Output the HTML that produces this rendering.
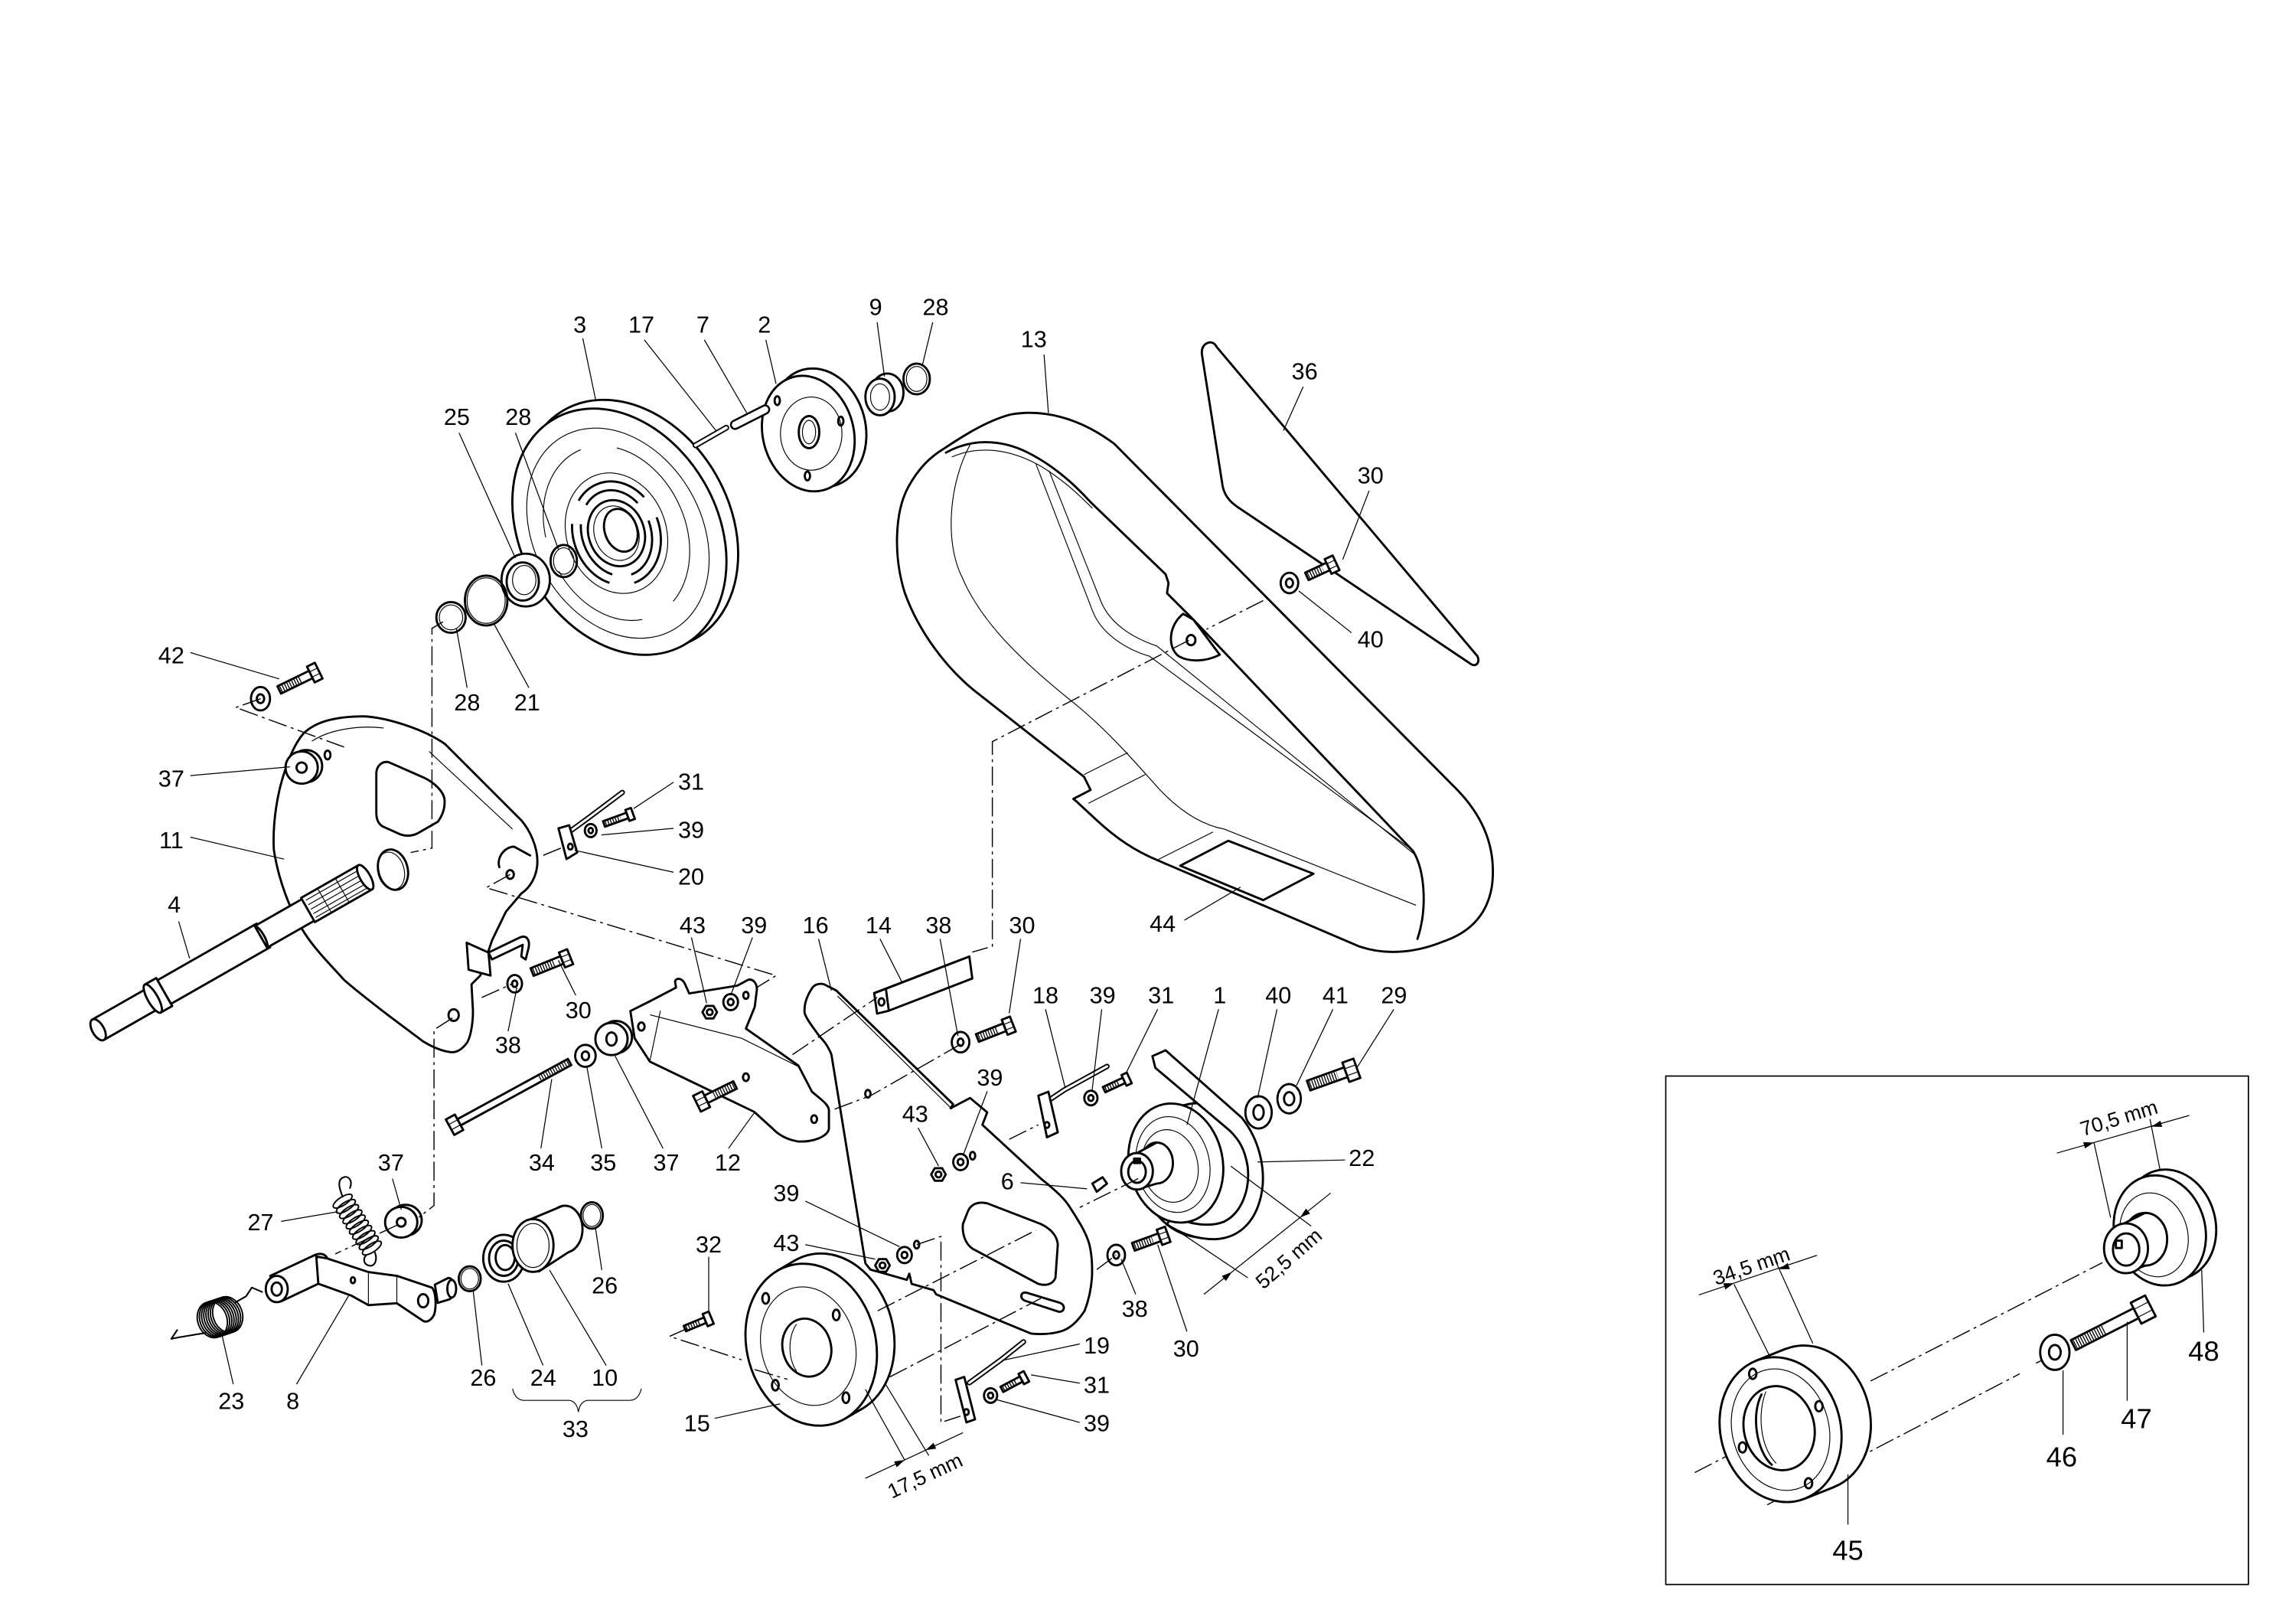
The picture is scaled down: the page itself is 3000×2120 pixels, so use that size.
<!DOCTYPE html>
<html><head><meta charset="utf-8"><style>
html,body{margin:0;padding:0;background:#fff;}
svg{display:block}
.k{stroke:#000;stroke-width:1.5;fill:none;stroke-linejoin:round;stroke-linecap:round}
.kw{stroke:#000;stroke-width:1.5;fill:#fff;stroke-linejoin:round;stroke-linecap:round}
.t{stroke:#000;stroke-width:0.6;fill:none}
.l{stroke:#000;stroke-width:0.65;fill:none}
.d{stroke:#000;stroke-width:0.75;fill:none;stroke-dasharray:13 3 2 3}
.th{stroke:#000;fill:none;stroke-dasharray:0.7 1.1}
text{font-family:"Liberation Sans",Arial,sans-serif;font-size:16px;fill:#000;text-anchor:middle}
.dm{font-size:14px}
.big{font-size:19px}
</style></head><body>
<svg width="3000" height="2120" viewBox="0 0 1568 1108" preserveAspectRatio="none" xmlns="http://www.w3.org/2000/svg">
<rect x="0" y="0" width="1568" height="1108" fill="#fff"/>

<!-- Belt cover 13 -->
<path class="kw" d="M644.8,306.2 C660,296 675,287 690,283 C712,279 737,285 761,303 L994,538 C1012,556 1022,578 1019,604 C1016,625 1003,637 985,643 C965,651 945,652 928,646 L791,587.5 C775,581 762,572 749,560 L735,547 L733,545.4 L744.8,539.3 L740.3,530.3 L665.7,471.7 C645,455 627,430 618,405 C610,380 611,350 620,333 C627,320 635,312 644.8,306.2 Z"/>
<path class="k" d="M646,309 C662,300 682,299 702,309 C720,318 735,332 745,343 L796,392 L798,398 L797,405 L815,423 L965,581 C973,594 975,620 968,641"/>
<path class="t" d="M650,312 C668,304 690,306 712,319 C728,329 738,339 746,347"/>
<path class="t" d="M662.7,303.2 C648,330 645,370 657,394 C668,420 690,445 731,478 C755,497 775,520 791,538 C805,553 820,563 836,566 L967,618"/>
<path class="t" d="M707.5,316.8 L746.3,417.5 C752,432 768,443 785,448 L964,580"/>
<path class="t" d="M716.4,321.3 L752,411 C758,425 772,435 790,441 L967,584"/>
<path class="t" d="M740.3,528.8 L770.2,513.8 M743.3,548.4 L782.1,528.8 M789.6,587.5 L828.4,568"/>
<path class="kw" d="M808,419 C798,427 797,442 805,448 C812,452 823,452 833,447 L815,423 Z"/>
<ellipse class="k" cx="813.4" cy="437" rx="3" ry="3.5"/>
<polygon class="k" points="806,591 838.8,574 897,596.5 862.7,614.5"/>

<!-- Shield 36 -->
<path class="kw" d="M825,234 C828,233 830,235 831,237 L1009,448 C1011,452 1008,456 1004,453 L845,346 C839,342 836,337 835,332 L821,243 C820,238 822,235 825,234 Z"/>

<!-- Pulley 3 -->
<ellipse class="kw" cx="430" cy="358" rx="68" ry="90" transform="rotate(-30 430 358)"/>
<ellipse class="kw" cx="423" cy="363" rx="67" ry="89" transform="rotate(-30 423 363)"/>
<ellipse class="t" cx="422" cy="364" rx="57" ry="76" transform="rotate(-30 422 364)"/>
<ellipse class="t" cx="421" cy="364" rx="47" ry="62" transform="rotate(-25 421 364)" stroke-dasharray="70 25"/>
<ellipse class="t" cx="421" cy="364" rx="34" ry="42" transform="rotate(-20 421 364)"/>
<ellipse cx="421" cy="364" rx="26.5" ry="33" transform="rotate(-20 421 364)" fill="none" stroke="#000" stroke-width="7.5" stroke-dasharray="47 15.2"/>
<ellipse cx="421" cy="364" rx="26.5" ry="33" transform="rotate(-20 421 364)" fill="none" stroke="#fff" stroke-width="4.5" stroke-dasharray="47 15.2"/>
<ellipse class="k" cx="421" cy="364" rx="19" ry="23" transform="rotate(-20 421 364)"/>
<ellipse class="t" cx="421" cy="364" rx="15" ry="19" transform="rotate(-20 421 364)"/>
<ellipse class="k" cx="424" cy="362" rx="11" ry="15" transform="rotate(-20 424 362)"/>

<!-- Pulley 2 -->
<ellipse class="kw" cx="559" cy="292" rx="32" ry="41" transform="rotate(-15 559 292)"/>
<ellipse class="kw" cx="552" cy="296" rx="31" ry="40" transform="rotate(-15 552 296)"/>
<ellipse class="t" cx="554" cy="296" rx="21" ry="25"/>
<ellipse class="k" cx="552.5" cy="295" rx="7" ry="11"/>
<ellipse class="t" cx="552.5" cy="295" rx="4.5" ry="8"/>
<ellipse class="k" cx="530.8" cy="273.5" rx="1.8" ry="3"/>
<ellipse class="k" cx="574.2" cy="287.5" rx="1.8" ry="3"/>
<ellipse class="k" cx="551.4" cy="324.9" rx="1.8" ry="3"/>

<!-- pins 17, 7 -->
<line x1="475" y1="304" x2="496" y2="292" stroke="#000" stroke-width="4" stroke-linecap="round"/>
<line x1="475" y1="304" x2="496" y2="292" stroke="#fff" stroke-width="2" stroke-linecap="round"/>
<line x1="502" y1="290" x2="522.5" y2="279.6" stroke="#000" stroke-width="7" stroke-linecap="round"/>
<line x1="502" y1="290" x2="522.5" y2="279.6" stroke="#fff" stroke-width="4.4" stroke-linecap="round"/>
<!-- bushing 9 -->
<ellipse class="kw" cx="606" cy="268" rx="11" ry="13"/>
<ellipse class="kw" cx="601" cy="271" rx="10" ry="12.5"/>
<ellipse class="t" cx="601" cy="271" rx="6.5" ry="9"/>
<!-- ring 28 top -->
<ellipse class="k" cx="626" cy="258.7" rx="9" ry="10.5"/>
<ellipse class="t" cx="626" cy="258.7" rx="7" ry="8.5"/>
<!-- seal 25 -->
<ellipse class="kw" cx="359" cy="396" rx="16.5" ry="18"/>
<ellipse class="k" cx="357" cy="397" rx="11" ry="13"/>
<ellipse class="t" cx="358" cy="396" rx="8" ry="10"/>
<!-- circlip 28 -->
<ellipse class="k" cx="385" cy="383" rx="9" ry="11"/>
<ellipse class="t" cx="385" cy="383" rx="7" ry="9"/>
<!-- ring 21 -->
<ellipse class="k" cx="332" cy="410" rx="14.5" ry="17"/>
<ellipse class="t" cx="332" cy="410" rx="13" ry="15.5"/>
<!-- circlip 28 lower -->
<ellipse class="k" cx="308" cy="421.5" rx="10" ry="10.5"/>
<ellipse class="t" cx="308" cy="421.5" rx="8" ry="8.5"/>

<!-- Plate 11 -->
<path class="kw" d="M207,501 C215,493 228,489 249,489 C265,490 290,498 304,508 L356,560 C362,567 367,578 367,588 C367,598 362,606 356,610 L345.5,622.4 L336,642 L328,666 L322,672 L323,690 C323,700 321,710 318,713 C314,718 310,719 306,718 C300,717 294,714 289,711 L265,693 C252,683 243,676 235,669 C226,659 215,648 208,637 C198,622 190,600 187,580 C186,560 190,540 194,528 C198,515 202,507 207,501 Z"/>
<path class="t" d="M213,506 C225,498 245,495 262,497 M293,513 L350,566"/>
<path class="k" d="M265.9,520.5 L289.7,531 C296,534 303,540 303.6,546 C304,552 302,557 299,561 L285,569 C281,571 276,571 272,569 L261,564 C258,562 257,559 257,555 L257,528 C257,523 261,519 265.9,520.5 Z"/>
<ellipse class="k" cx="268.4" cy="593.7" rx="10" ry="14" transform="rotate(-15 268.4 593.7)"/>
<ellipse class="t" cx="267" cy="594.5" rx="9" ry="13" transform="rotate(-15 267 594.5)"/>
<ellipse class="k" cx="223.7" cy="515.4" rx="2" ry="3"/>
<ellipse class="k" cx="309.8" cy="693" rx="3.5" ry="4"/>
<path class="k" d="M341,592 C339,585 345,578 351,578 L362,584"/>
<ellipse class="k" cx="348.4" cy="597" rx="2.5" ry="3"/>
<polygon class="kw" points="318.7,643.6 333.6,650.3 335,666 320,662"/>
<path class="kw" d="M333.6,650.3 L355,640 C360,638 362,642 361,647 L359,655 L356,653 L357,645 L336,655 Z"/>

<!-- Shaft 4 -->
<g transform="translate(67,703) rotate(-29.7)">
<rect class="kw" x="0" y="-8" width="46" height="16"/>
<ellipse class="kw" cx="0" cy="0" rx="4" ry="8"/>
<rect class="kw" x="43" y="-11" width="9" height="22"/>
<ellipse class="kw" cx="43" cy="0" rx="3.5" ry="11"/>
<rect class="kw" x="52" y="-9.3" width="78" height="18.6"/>
<rect class="kw" x="128" y="-8.5" width="40" height="17"/>
<path class="k" d="M128,-9.3 C131,-5 131,5 128,9.3"/>
<rect class="kw" x="165" y="-9.5" width="45" height="19"/>
<path class="t" d="M167,-6.5 L210,-6.5 M167,-3 L210,-3 M167,0.5 L210,0.5 M167,4 L210,4 M167,7 L210,7 M178,-9.5 L178,9.5 M192,-9.5 L192,9.5"/>
<ellipse class="kw" cx="210" cy="0" rx="3.5" ry="9.5"/>
</g>

<!-- Plate 12 -->
<path class="kw" d="M430.5,690.2 L443.9,683.5 L461.7,674.2 L461,670 C462,667 466,668 467.7,671.6 L470.7,678.2 L503.5,672.9 L510.9,668.9 C514,668 517,671 516.9,675.6 L515.4,687.5 L509.4,702.2 L545.2,727.4 L554.5,745.3 C560,750 566,754 566.1,758 L566.1,770.7 C565,776 555,780 544.5,779.2 C538,778 532,775 527.9,770.7 L515,759 L443.9,724.8 L433.4,708.8 Z"/>
<path class="t" d="M443.9,692.8 L506.4,708.8 L545,728 M451,690 L443.9,724"/>
<ellipse class="k" cx="438" cy="700.8" rx="2.2" ry="2.8"/>
<ellipse class="k" cx="509.4" cy="679.5" rx="1.8" ry="2.4"/>
<ellipse class="k" cx="509.4" cy="735.4" rx="2" ry="2.6"/>
<ellipse class="k" cx="556" cy="764" rx="2" ry="2.6"/>

<!-- Plate 16 -->
<path class="kw" d="M554.5,674.8 C556,672 560,671 562.8,672 L571.1,676.2 L650.9,753.8 L649.2,756.6 L662.5,749.6 L674.2,759.4 L670.9,767.9 L710.8,804.6 C720,812 727,818 730.7,824.3 C737,834 742,842 744,849.7 C746,858 746,866 745.7,872.3 C745,882 743,889 740.7,894.9 C736,902 731,907 724.1,909 C717,911 710,911 704.1,910.4 L639.3,883.6 L637.6,880.8 L622.6,876.5 L621,869.5 L619.3,873.7 L594.4,866.7 L591,862.4 L567.8,719.9 C565,713 562,710 559.4,707.2 C555,701 551,696 549.5,691.7 C549,686 551,680 554.5,674.8 Z"/>
<path class="t" d="M572,680 L650,757"/>
<path class="k" d="M660.9,827.2 C663,822 668,820 674.2,821.5 L710.8,835.6 C718,839 722,844 722.4,849.7 L720.8,872.3 C719,877 714,878 709.1,876.5 L664.2,852.5 C659,849 657,842 657.6,835.6 Z"/>
<path class="k" d="M701,882.5 L724,889.5 C728,891 727,896 723,895.5 L700,888 C696,886.5 697,881.5 701,882.5 Z"/>
<ellipse class="k" cx="592.7" cy="746.7" rx="1.8" ry="2.6"/>
<ellipse class="k" cx="664.2" cy="789" rx="1.8" ry="2.6"/>
<ellipse class="k" cx="626" cy="849.7" rx="1.8" ry="2.6"/>

<!-- part 14 -->
<path class="kw" d="M597,678 L654,656 L662,653 L664,668 L607,690 L599,692 Z"/>
<path class="k" d="M597,678 L605,675 L662,653 M605,675 L607,690"/>
<ellipse class="k" cx="602" cy="684" rx="2" ry="2.5"/>

<!-- bracket 20 -->
<path d="M390,567 L401,559 L425,541" stroke="#000" stroke-width="3.6" fill="none" stroke-linecap="round" stroke-linejoin="round"/>
<path d="M390,567 L401,559 L425,541" stroke="#fff" stroke-width="1.6" fill="none" stroke-linecap="round" stroke-linejoin="round"/>
<polygon class="kw" points="381.4,565.5 388.7,563.4 394.2,582 386.9,586.5"/>
<ellipse class="k" cx="389.5" cy="578" rx="1.6" ry="2"/>
<!-- bracket 18 -->
<path d="M718,750 L727,744 L756,728" stroke="#000" stroke-width="3.6" fill="none" stroke-linecap="round" stroke-linejoin="round"/>
<path d="M718,750 L727,744 L756,728" stroke="#fff" stroke-width="1.6" fill="none" stroke-linecap="round" stroke-linejoin="round"/>
<polygon class="kw" points="709.1,748 716,745.3 722.4,773 715,776.4"/>
<ellipse class="k" cx="715" cy="768" rx="1.6" ry="2"/>
<!-- bracket 19 -->
<path d="M662,944 L684,928 L699,916" stroke="#000" stroke-width="3.6" fill="none" stroke-linecap="round" stroke-linejoin="round"/>
<path d="M662,944 L684,928 L699,916" stroke="#fff" stroke-width="1.6" fill="none" stroke-linecap="round" stroke-linejoin="round"/>
<polygon class="kw" points="652.6,942 658.5,940 665.9,969 660,971"/>
<ellipse class="k" cx="660" cy="964" rx="1.6" ry="2"/>

<!-- Flange 15 -->
<ellipse class="kw" cx="566" cy="911" rx="44" ry="56" transform="rotate(-15 566 911)"/>
<polygon points="531,867.4 543,860.4 589,961.6 577,968.6" fill="#fff"/>
<path class="k" d="M531,867.4 L543,860.4 M577,968.6 L589,961.6"/>
<ellipse class="kw" cx="554" cy="918" rx="44" ry="56" transform="rotate(-15 554 918)"/>
<ellipse class="t" cx="552" cy="919" rx="32" ry="41" transform="rotate(-15 552 919)"/>
<ellipse class="k" cx="551" cy="920" rx="16.5" ry="20" transform="rotate(-15 551 920)"/>
<path class="t" d="M544,904 C538,912 538,928 544,936"/>
<ellipse class="k" cx="522.9" cy="886.4" rx="2.3" ry="3.6"/>
<ellipse class="k" cx="571.1" cy="897.7" rx="2.3" ry="3.6"/>
<ellipse class="k" cx="529.5" cy="945.7" rx="2.3" ry="3.6"/>
<ellipse class="k" cx="577.7" cy="954.2" rx="2.3" ry="3.6"/>

<!-- Pulley 1 / 22 -->
<ellipse class="kw" cx="820" cy="799" rx="41" ry="46" transform="rotate(-10 820 799)"/>
<path class="kw" d="M787,721 L796,717 L848,763 C860,778 864,797 862,812 C859,832 848,845 830,846 C815,846 805,841 797,836 L800,830 C812,836 826,838 836,834 C848,828 854,812 852,796 C850,784 846,778 840,772 L789,729 Z"/>
<ellipse class="kw" cx="803" cy="794" rx="32" ry="41" transform="rotate(-12 803 794)"/>
<ellipse class="t" cx="801" cy="795" rx="25" ry="33" transform="rotate(-12 801 795)"/>
<ellipse class="t" cx="799" cy="796" rx="19" ry="25" transform="rotate(-12 799 796)"/>
<ellipse class="kw" cx="790" cy="794" rx="11" ry="14"/>
<polygon points="776.5,787 790,780 790,808 776.5,812" fill="#fff"/>
<path class="k" d="M776.5,787.2 L790,780 M776.5,812 L790,808"/>
<ellipse class="kw" cx="776.5" cy="799.6" rx="10.8" ry="12.5"/>
<ellipse class="k" cx="776.5" cy="800" rx="6" ry="7.5"/>
<rect class="k" x="774.5" y="791" width="4" height="3"/>
<!-- key 6 -->
<polygon class="kw" points="746,808 753,803.7 756,808 749,813.6"/>

<!-- Lever 8, springs -->
<path class="kw" d="M184.6,871 L215.9,856.4 C221,855 224,858 223.3,860 L223,872 L217.4,876.4 L192,888.4 Z"/>
<ellipse class="kw" cx="189" cy="880" rx="7.5" ry="9"/>
<ellipse class="k" cx="189" cy="880" rx="3.5" ry="4.5"/>
<path class="kw" d="M216,857.8 L223.3,859.1 L251.6,868.4 L271,871 L294.9,879 C298,882 298,893 296.4,897.7 C294,902 291,903 288.9,901.7 L271,889.7 L251.6,891 L239.7,884.4 L217.4,876.4 Z"/>
<path class="t" d="M251.6,868.4 L251.6,891 M271,871 L271,889.7"/>
<ellipse class="k" cx="289" cy="888" rx="3.5" ry="4.5"/>
<ellipse class="k" cx="241" cy="874" rx="1.5" ry="2"/>
<path class="kw" d="M297,877 L306,872.5 C311,872 312,884 307,887 L299,889.5 Z"/>
<ellipse class="kw" cx="308.5" cy="879.8" rx="3" ry="6"/>
<!-- spring 27 -->
<g class="k" style="stroke-width:1">
<ellipse cx="234" cy="820" rx="7.5" ry="2.8" transform="rotate(-33 234 820)"/>
<ellipse cx="236.2" cy="823.6" rx="7.5" ry="2.8" transform="rotate(-33 236.2 823.6)"/>
<ellipse cx="238.4" cy="827.1" rx="7.5" ry="2.8" transform="rotate(-33 238.4 827.1)"/>
<ellipse cx="240.7" cy="830.7" rx="7.5" ry="2.8" transform="rotate(-33 240.7 830.7)"/>
<ellipse cx="242.9" cy="834.2" rx="7.5" ry="2.8" transform="rotate(-33 242.9 834.2)"/>
<ellipse cx="245.1" cy="837.8" rx="7.5" ry="2.8" transform="rotate(-33 245.1 837.8)"/>
<ellipse cx="247.3" cy="841.3" rx="7.5" ry="2.8" transform="rotate(-33 247.3 841.3)"/>
<ellipse cx="249.6" cy="844.9" rx="7.5" ry="2.8" transform="rotate(-33 249.6 844.9)"/>
<ellipse cx="251.8" cy="848.4" rx="7.5" ry="2.8" transform="rotate(-33 251.8 848.4)"/>
<ellipse cx="254" cy="852" rx="7.5" ry="2.8" transform="rotate(-33 254 852)"/>
</g>
<path class="k" style="stroke-width:1.1" d="M234,817 C232,812 230,806 234,804 C238,802 241,806 239,811 M256,855 C258,860 256,865 252,864 C248,863 248,859 250,857"/>
<!-- spring 23 -->
<g class="k" style="stroke-width:1">
<ellipse cx="145" cy="901" rx="10" ry="12.5" transform="rotate(-20 145 901)"/>
<ellipse cx="146.5" cy="900.5" rx="10" ry="12.5" transform="rotate(-20 146.5 900.5)"/>
<ellipse cx="148" cy="900" rx="10" ry="12.5" transform="rotate(-20 148 900)"/>
<ellipse cx="149.5" cy="899.5" rx="10" ry="12.5" transform="rotate(-20 149.5 899.5)"/>
<ellipse cx="151" cy="899" rx="10" ry="12.5" transform="rotate(-20 151 899)"/>
<ellipse cx="152.5" cy="898.5" rx="10" ry="12.5" transform="rotate(-20 152.5 898.5)"/>
<ellipse cx="154" cy="898" rx="10" ry="12.5" transform="rotate(-20 154 898)"/>
<ellipse cx="155.5" cy="897.5" rx="10" ry="12.5" transform="rotate(-20 155.5 897.5)"/>
</g>
<path class="k" style="stroke-width:1.1" d="M140,910 L122,913 L117,914 L121,908 M161,889 L168,885 L172,879 L179,882"/>
<!-- 26, 24, 10, 26 -->
<ellipse class="k" cx="320.8" cy="873" rx="7.5" ry="8.5"/>
<ellipse class="t" cx="320.8" cy="873" rx="6" ry="7"/>
<ellipse class="kw" cx="344" cy="859" rx="14" ry="16"/>
<ellipse class="k" cx="344" cy="859" rx="10" ry="12"/>
<ellipse class="k" cx="345" cy="858.5" rx="6.5" ry="8.5"/>
<ellipse class="kw" cx="385.8" cy="839.1" rx="12" ry="16"/>
<polygon points="362,832.5 384,823.3 388,855 368,868" fill="#fff"/>
<path class="k" d="M362,832.5 L384,823.3 M368,868 L388,855"/>
<ellipse class="kw" cx="364" cy="850.3" rx="14" ry="18"/>
<ellipse class="t" cx="364" cy="850.3" rx="11" ry="15"/>
<ellipse class="k" cx="404.2" cy="829.8" rx="7.5" ry="9"/>
<ellipse class="t" cx="404.2" cy="829.8" rx="6" ry="7.5"/>
<path class="t" d="M350,948 Q352,956 358,956 L389,956 Q394,957 395,964 Q396,957 401,956 L430,956 Q436,956 438,948"/>

<!-- Washers & nuts -->
<ellipse class="kw" cx="177.9" cy="477" rx="6.5" ry="8"/><ellipse class="k" cx="177.9" cy="477" rx="2.5" ry="3"/>
<ellipse class="kw" cx="209" cy="523" rx="11" ry="11"/><ellipse class="kw" cx="206" cy="524" rx="11" ry="11"/><ellipse class="k" cx="206" cy="524" rx="3.5" ry="3.5"/>
<ellipse class="kw" cx="403.4" cy="567" rx="4" ry="4.5"/><ellipse class="k" cx="403.4" cy="567" rx="1.5" ry="1.8"/>
<ellipse class="kw" cx="351.5" cy="671.6" rx="5" ry="6"/><ellipse class="k" cx="351.5" cy="671.6" rx="1.8" ry="2.2"/>
<ellipse class="kw" cx="399.8" cy="720.8" rx="7" ry="7.5"/><ellipse class="k" cx="399.8" cy="720.8" rx="2.5" ry="3"/>
<ellipse class="kw" cx="420.6" cy="708" rx="11" ry="11"/><ellipse class="kw" cx="417.6" cy="709.3" rx="11" ry="11"/><ellipse class="k" cx="417.6" cy="709.3" rx="3.5" ry="4.5"/>
<ellipse class="kw" cx="499" cy="684.1" rx="5" ry="5.5"/><ellipse class="k" cx="499" cy="684.1" rx="2" ry="2.2"/>
<ellipse class="kw" cx="656" cy="711.5" rx="6" ry="7"/><ellipse class="k" cx="656" cy="711.5" rx="2" ry="2.5"/>
<ellipse class="kw" cx="656" cy="793.3" rx="5" ry="5.5"/><ellipse class="k" cx="656" cy="793.3" rx="2" ry="2.2"/>
<ellipse class="kw" cx="617.7" cy="856.8" rx="5" ry="5.5"/><ellipse class="k" cx="617.7" cy="856.8" rx="2" ry="2.2"/>
<ellipse class="kw" cx="745" cy="749.6" rx="4.5" ry="5"/><ellipse class="k" cx="745" cy="749.6" rx="1.8" ry="2"/>
<ellipse class="kw" cx="859.5" cy="759.4" rx="9" ry="11"/><ellipse class="k" cx="859.5" cy="759.4" rx="3.5" ry="5"/>
<ellipse class="kw" cx="880.4" cy="750.1" rx="8" ry="10" stroke-dasharray="3 1"/><ellipse class="k" cx="880.4" cy="750.1" rx="3.5" ry="4.5"/>
<ellipse class="kw" cx="762.3" cy="856.8" rx="6" ry="7"/><ellipse class="k" cx="762.3" cy="856.8" rx="2" ry="2.5"/>
<ellipse class="kw" cx="676.5" cy="952.7" rx="4.5" ry="5"/><ellipse class="k" cx="676.5" cy="952.7" rx="1.8" ry="2"/>
<ellipse class="kw" cx="277" cy="833" rx="11" ry="10.5"/><ellipse class="kw" cx="274" cy="834.4" rx="11" ry="10.5"/><ellipse class="k" cx="274" cy="834.4" rx="3" ry="3"/>
<ellipse class="kw" cx="880.6" cy="398" rx="6" ry="7"/><ellipse class="k" cx="880.6" cy="398" rx="2.4" ry="3"/>
<polygon class="kw" points="479.7,691 482.2,686.7 487.2,686.7 489.7,691 487.2,695.3 482.2,695.3"/><ellipse class="k" cx="484.7" cy="691" rx="2" ry="2"/>
<polygon class="kw" points="635.9,801.8 638.4,797.5 643.4,797.5 645.9,801.8 643.4,806.1 638.4,806.1"/><ellipse class="k" cx="640.9" cy="801.8" rx="2" ry="2"/>
<polygon class="kw" points="597.7,863.9 600.2,859.6 605.2,859.6 607.7,863.9 605.2,868.2 600.2,868.2"/><ellipse class="k" cx="602.7" cy="863.9" rx="2" ry="2"/>

<!-- Bolts -->
<g transform="translate(190.7,471) rotate(-26)"><rect class="kw" x="0" y="-2.8" width="24" height="5.6"/><line class="th" x1="1" y1="0" x2="17" y2="0" stroke-width="4.4"/><rect class="kw" x="24" y="-6" width="6" height="12"/><line class="t" x1="24" y1="-2" x2="30" y2="-2"/><line class="t" x1="24" y1="2" x2="30" y2="2"/></g>
<g transform="translate(412.5,562.5) rotate(-20)"><rect class="kw" x="0" y="-2" width="17" height="4"/><line class="th" x1="1" y1="0" x2="12" y2="0" stroke-width="3"/><rect class="kw" x="17" y="-4" width="4" height="8"/></g>
<g transform="translate(363.4,663.6) rotate(-22)"><rect class="kw" x="0" y="-2.8" width="22" height="5.6"/><line class="th" x1="1" y1="0" x2="16" y2="0" stroke-width="4.4"/><rect class="kw" x="22" y="-5.5" width="6" height="11"/><line class="t" x1="22" y1="-2" x2="28" y2="-2"/><line class="t" x1="22" y1="2" x2="28" y2="2"/></g>
<g transform="translate(389,725) rotate(151.4)"><rect class="kw" x="0" y="-2.4" width="86" height="4.8"/><line class="th" x1="1" y1="0" x2="24" y2="0" stroke-width="3.6"/><rect class="kw" x="86" y="-6" width="7" height="12"/><line class="t" x1="86" y1="-2" x2="93" y2="-2"/><line class="t" x1="86" y1="2" x2="93" y2="2"/></g>
<g transform="translate(502,740.7) rotate(153.8)"><rect class="kw" x="0" y="-2.8" width="22" height="5.6"/><line class="th" x1="1" y1="0" x2="16" y2="0" stroke-width="4.4"/><rect class="kw" x="22" y="-6" width="7" height="12"/><line class="t" x1="22" y1="-2" x2="29" y2="-2"/><line class="t" x1="22" y1="2" x2="29" y2="2"/></g>
<g transform="translate(667.5,708.6) rotate(-21.4)"><rect class="kw" x="0" y="-2.8" width="20" height="5.6"/><line class="th" x1="1" y1="0" x2="15" y2="0" stroke-width="4.4"/><rect class="kw" x="20" y="-5.5" width="6" height="11"/><line class="t" x1="20" y1="-2" x2="26" y2="-2"/><line class="t" x1="20" y1="2" x2="26" y2="2"/></g>
<g transform="translate(754,743.9) rotate(-25)"><rect class="kw" x="0" y="-2" width="15" height="4"/><line class="th" x1="1" y1="0" x2="11" y2="0" stroke-width="3"/><rect class="kw" x="15" y="-4" width="4" height="8"/></g>
<g transform="translate(893.7,741.1) rotate(-19.7)"><rect class="kw" x="0" y="-3.5" width="27" height="7"/><line class="th" x1="1" y1="0" x2="21" y2="0" stroke-width="5.6"/><rect class="kw" x="27" y="-7" width="8" height="14"/><line class="t" x1="27" y1="-2.5" x2="35" y2="-2.5"/><line class="t" x1="27" y1="2.5" x2="35" y2="2.5"/></g>
<g transform="translate(774,851.2) rotate(-20)"><rect class="kw" x="0" y="-2.8" width="19" height="5.6"/><line class="th" x1="1" y1="0" x2="14" y2="0" stroke-width="4.4"/><rect class="kw" x="19" y="-5.5" width="6" height="11"/><line class="t" x1="19" y1="-2" x2="25" y2="-2"/><line class="t" x1="19" y1="2" x2="25" y2="2"/></g>
<g transform="translate(684.2,948.5) rotate(-28)"><rect class="kw" x="0" y="-2" width="15" height="4"/><line class="th" x1="1" y1="0" x2="11" y2="0" stroke-width="3"/><rect class="kw" x="15" y="-4" width="4" height="8"/></g>
<g transform="translate(467.7,907) rotate(-22.5)"><rect class="kw" x="0" y="-2" width="15" height="4"/><line class="th" x1="1" y1="0" x2="11" y2="0" stroke-width="3"/><rect class="kw" x="15" y="-4.5" width="4.5" height="9"/></g>
<g transform="translate(892.5,393.5) rotate(-25)"><rect class="kw" x="0" y="-2.8" width="16" height="5.6"/><line class="th" x1="1" y1="0" x2="12" y2="0" stroke-width="4.4"/><rect class="kw" x="16" y="-5.5" width="6" height="11"/><line class="t" x1="16" y1="-2" x2="22" y2="-2"/><line class="t" x1="16" y1="2" x2="22" y2="2"/></g>

<!-- Dash-dot center lines -->
<g class="d">
<polyline points="178,477 161,483 235,510"/>
<polyline points="302.5,424.5 295,429 295,579 280.5,582"/>
<polyline points="383,579 368.5,585"/>
<polyline points="348.4,597 332,606 530,666 517,674"/>
<polyline points="309,695 296.4,703 296.4,823 286,831"/>
<polyline points="329,681 350,671.6"/>
<polyline points="271,836.5 229,856"/>
<polyline points="811.9,437.1 677.7,506.3 677.7,646 664,650"/>
<polyline points="862.7,410 823.9,429.6"/>
<polyline points="541.2,720 599,681"/>
<polyline points="656,712.9 594.4,748.1 567.8,758"/>
<polyline points="689.2,777.8 709.1,767.9"/>
<polyline points="777.3,804.6 737.4,824.3"/>
<polyline points="749,866.7 762.3,856.8"/>
<polyline points="599.4,894.9 707.4,839.9"/>
<polyline points="607.7,940 710.8,886.4"/>
<polyline points="626,849.7 642.6,844.1 642.6,971.1 655.9,966.8"/>
<polyline points="469.2,907 457.3,912.3 506.4,928.3"/>
<polyline points="515.4,935 537.7,941.6"/>
<polyline points="1157.4,1005.3 1226.6,969.8"/>
<polyline points="1277.5,942.8 1435.8,862"/>
<polyline points="1206.9,1027.3 1379.3,937.9"/>
<polyline points="1390.5,930.6 1403.3,924.4"/>
</g>

<!-- Dimensions -->
<g class="l">
<line x1="840.5" y1="796.1" x2="895.4" y2="837"/>
<line x1="797.3" y1="835.6" x2="852.1" y2="872.3"/>
<line x1="908.7" y1="814.5" x2="822.2" y2="883.6"/>
<line x1="591" y1="948.5" x2="617.7" y2="996.5"/>
<line x1="604.4" y1="944.3" x2="634.3" y2="993.7"/>
<line x1="591" y1="1009.2" x2="657.6" y2="978.1"/>
<line x1="1184.2" y1="876.7" x2="1209.7" y2="928.1"/>
<line x1="1212.5" y1="860.7" x2="1238" y2="917.1"/>
<line x1="1160.2" y1="884" x2="1240.8" y2="857"/>
<line x1="1430" y1="779.9" x2="1441.4" y2="831.3"/>
<line x1="1468.3" y1="764" x2="1475.3" y2="799.5"/>
<line x1="1404.7" y1="787.2" x2="1495.1" y2="761.5"/>
</g>
<g fill="#000">
<polygon points="887.8,831.2 894.7,828.5 891.9,825.1"/>
<polygon points="841.3,868.4 837.2,874.5 834.4,871.1"/>
<polygon points="617.8,996.7 612.4,1001.7 610.6,997.7"/>
<polygon points="632.1,990 639.3,989 637.5,985"/>
<polygon points="1184.2,876 1178.3,880.3 1176.9,876.1"/>
<polygon points="1215,866.5 1222.3,866.4 1220.9,862.2"/>
<polygon points="1430,780 1423.9,784 1422.7,779.8"/>
<polygon points="1469.3,769.1 1476.6,769.3 1475.4,765.1"/>
</g>
<g transform="translate(880,859) rotate(-41)"><text class="dm" y="5">52,5 mm</text></g>
<g transform="translate(631.6,1007.2) rotate(-25)"><text class="dm" y="5">17,5 mm</text></g>
<g transform="translate(1196,864) rotate(-19)"><text class="dm" y="5">34,5 mm</text></g>
<g transform="translate(1447,763) rotate(-17)"><text class="dm" y="5">70,5 mm</text></g>

<!-- Inset -->
<rect x="1137.6" y="734.6" width="397.9" height="347.1" fill="none" stroke="#000" stroke-width="0.9"/>
<ellipse class="kw" cx="1236" cy="968" rx="41" ry="50" transform="rotate(-15 1236 968)"/>
<polygon points="1199.3,928.9 1219.3,920.9 1252.7,1015.1 1232.7,1023.1" fill="#fff"/>
<path class="k" d="M1199.3,928.9 L1219.3,920.9 M1232.7,1023.1 L1252.7,1015.1"/>
<ellipse class="kw" cx="1216" cy="976" rx="41" ry="50" transform="rotate(-15 1216 976)"/>
<ellipse class="t" cx="1216" cy="976" rx="33" ry="42" transform="rotate(-15 1216 976)"/>
<ellipse class="k" cx="1215" cy="975" rx="24" ry="29" transform="rotate(-15 1215 975)"/>
<path class="k" d="M1203,952 C1196,965 1199,990 1210,1000"/>
<path class="t" d="M1206,950 C1200,965 1202,988 1213,999"/>
<ellipse class="k" cx="1197" cy="937.9" rx="2.5" ry="3.5"/>
<ellipse class="k" cx="1242.2" cy="960" rx="2.5" ry="3.5"/>
<ellipse class="k" cx="1190" cy="988.1" rx="2.5" ry="3.5"/>
<ellipse class="k" cx="1235.1" cy="1012.6" rx="2.5" ry="3.5"/>
<ellipse class="kw" cx="1482" cy="836" rx="31" ry="38" transform="rotate(-15 1482 836)"/>
<ellipse class="kw" cx="1475" cy="840" rx="31" ry="38" transform="rotate(-15 1475 840)"/>
<ellipse class="t" cx="1471" cy="843" rx="23" ry="29" transform="rotate(-15 1471 843)"/>
<ellipse class="kw" cx="1465" cy="846" rx="15" ry="18"/>
<polygon points="1451,835 1465,828 1465,864 1452,869" fill="#fff"/>
<path class="k" d="M1451,835 L1465,828 M1452,869 L1465,864"/>
<ellipse class="kw" cx="1451.9" cy="852.2" rx="15" ry="17"/>
<ellipse class="k" cx="1452" cy="853" rx="9" ry="11"/>
<rect class="k" x="1445" y="847" width="4" height="5"/>
<ellipse class="kw" cx="1403.3" cy="923.2" rx="10" ry="12"/>
<ellipse class="k" cx="1403.3" cy="923.2" rx="4" ry="5"/>
<g transform="translate(1416,918.3) rotate(-27)"><rect class="kw" x="0" y="-3.8" width="48" height="7.6"/><line class="th" x1="1" y1="0" x2="24" y2="0" stroke-width="6.2"/><rect class="kw" x="48" y="-8" width="11" height="16"/><line class="t" x1="48" y1="-3" x2="59" y2="-3"/><line class="t" x1="48" y1="3" x2="59" y2="3"/></g>

<!-- Leader lines -->
<g class="l">
<line x1="398" y1="231" x2="407" y2="274"/>
<line x1="440" y1="232" x2="489" y2="294"/>
<line x1="481" y1="232" x2="510" y2="282"/>
<line x1="523" y1="232" x2="530" y2="262"/>
<line x1="599" y1="220" x2="604" y2="257"/>
<line x1="637" y1="220" x2="630" y2="249"/>
<line x1="713" y1="242" x2="716" y2="282"/>
<line x1="890" y1="264" x2="876.5" y2="294"/>
<line x1="935" y1="335" x2="917" y2="382"/>
<line x1="923" y1="432" x2="887" y2="403.5"/>
<line x1="313.5" y1="295.5" x2="352" y2="381"/>
<line x1="352" y1="295.5" x2="381.4" y2="375"/>
<line x1="319" y1="469.5" x2="311.7" y2="429"/>
<line x1="361.2" y1="469.5" x2="337.4" y2="426"/>
<line x1="130" y1="445.5" x2="190.7" y2="463.5"/>
<line x1="130" y1="529.5" x2="198" y2="523.5"/>
<line x1="130" y1="571.5" x2="194" y2="586.5"/>
<line x1="460" y1="534" x2="432.7" y2="552"/>
<line x1="460" y1="565.5" x2="410.7" y2="570"/>
<line x1="460" y1="595.5" x2="392.4" y2="580.5"/>
<line x1="122" y1="629" x2="129.5" y2="654.3"/>
<line x1="472.2" y1="640" x2="482.6" y2="684.9"/>
<line x1="513.9" y1="640" x2="499" y2="679.5"/>
<line x1="559" y1="641" x2="567.8" y2="676.2"/>
<line x1="601" y1="641" x2="616" y2="670.5"/>
<line x1="642" y1="641" x2="654.2" y2="707.2"/>
<line x1="697" y1="641" x2="689.2" y2="691.7"/>
<line x1="808.9" y1="628.2" x2="847.2" y2="605.6"/>
<line x1="714" y1="689" x2="727.4" y2="742.5"/>
<line x1="752.4" y1="689" x2="745.7" y2="745.3"/>
<line x1="790.6" y1="689" x2="769" y2="732.6"/>
<line x1="832.2" y1="689" x2="810.6" y2="767.9"/>
<line x1="872.1" y1="689" x2="858.8" y2="749.6"/>
<line x1="910.3" y1="689" x2="885.4" y2="741.1"/>
<line x1="951.9" y1="689" x2="927" y2="728.4"/>
<line x1="393.2" y1="679.5" x2="381.3" y2="655.6"/>
<line x1="347" y1="704" x2="353" y2="674.2"/>
<line x1="674.2" y1="745" x2="657.6" y2="789"/>
<line x1="627" y1="770" x2="641" y2="796.1"/>
<line x1="369.4" y1="784" x2="376.8" y2="736.7"/>
<line x1="411" y1="784" x2="400.6" y2="727.4"/>
<line x1="452.8" y1="784" x2="420" y2="720.8"/>
<line x1="497.5" y1="784" x2="515.4" y2="759.3"/>
<line x1="697" y1="807.4" x2="742.4" y2="811.6"/>
<line x1="918.6" y1="791.9" x2="858.8" y2="793.3"/>
<line x1="268" y1="804.6" x2="274" y2="825.8"/>
<line x1="192" y1="833.8" x2="230.8" y2="827.2"/>
<line x1="550" y1="820" x2="614.3" y2="851.1"/>
<line x1="550" y1="849.7" x2="597.7" y2="859.6"/>
<line x1="484" y1="858" x2="484" y2="895"/>
<line x1="411" y1="867.1" x2="406.6" y2="837.8"/>
<line x1="775.6" y1="883.6" x2="765.7" y2="859.6"/>
<line x1="810.6" y1="909" x2="790.6" y2="849.7"/>
<line x1="737.4" y1="917.5" x2="684.2" y2="928.8"/>
<line x1="737.4" y1="944.3" x2="704.1" y2="938.6"/>
<line x1="737.4" y1="971.1" x2="680.8" y2="955.6"/>
<line x1="329.1" y1="932.2" x2="323.2" y2="881.7"/>
<line x1="370.9" y1="932.2" x2="347" y2="876.4"/>
<line x1="414" y1="932.2" x2="375.3" y2="867.1"/>
<line x1="159.3" y1="945" x2="151.8" y2="912.3"/>
<line x1="202.5" y1="945" x2="238.2" y2="884.4"/>
<line x1="488" y1="968.3" x2="532.8" y2="958.4"/>
<line x1="1505" y1="909.7" x2="1503.6" y2="866.9"/>
<line x1="1452.7" y1="956.3" x2="1452.7" y2="902.4"/>
<line x1="1408.9" y1="979.5" x2="1408.9" y2="935.5"/>
<line x1="1262" y1="1040.8" x2="1262" y2="1006.5"/>
</g>

<!-- Labels -->
<text x="396" y="227">3</text>
<text x="438" y="227">17</text>
<text x="480" y="227">7</text>
<text x="522" y="227">2</text>
<text x="598" y="215">9</text>
<text x="639" y="215">28</text>
<text x="706" y="237">13</text>
<text x="891" y="259">36</text>
<text x="936" y="330">30</text>
<text x="936" y="442">40</text>
<text x="312" y="290">25</text>
<text x="354" y="290">28</text>
<text x="117" y="453">42</text>
<text x="319" y="485">28</text>
<text x="360" y="485">21</text>
<text x="117" y="537">37</text>
<text x="117" y="579">11</text>
<text x="472" y="539">31</text>
<text x="472" y="572">39</text>
<text x="472" y="604">20</text>
<text x="119" y="623">4</text>
<text x="473" y="637">43</text>
<text x="515" y="637">39</text>
<text x="557" y="637">16</text>
<text x="600" y="637">14</text>
<text x="641" y="637">38</text>
<text x="698" y="637">30</text>
<text x="794" y="636">44</text>
<text x="714" y="685">18</text>
<text x="753" y="685">39</text>
<text x="793" y="685">31</text>
<text x="833" y="685">1</text>
<text x="873" y="685">40</text>
<text x="912" y="685">41</text>
<text x="952" y="685">29</text>
<text x="395" y="695">30</text>
<text x="347" y="719">38</text>
<text x="676" y="741">39</text>
<text x="625" y="766">43</text>
<text x="370" y="799">34</text>
<text x="412" y="799">35</text>
<text x="455" y="799">37</text>
<text x="497" y="799">12</text>
<text x="688" y="812">6</text>
<text x="930" y="796">22</text>
<text x="267" y="799">37</text>
<text x="178" y="840">27</text>
<text x="537" y="820">39</text>
<text x="537" y="854">43</text>
<text x="484" y="855">32</text>
<text x="413" y="883">26</text>
<text x="775" y="899">38</text>
<text x="810" y="926">30</text>
<text x="749" y="924">19</text>
<text x="749" y="951">31</text>
<text x="749" y="977">39</text>
<text x="330" y="946">26</text>
<text x="371" y="946">24</text>
<text x="413" y="946">10</text>
<text x="158" y="962">23</text>
<text x="200" y="962">8</text>
<text x="393" y="981">33</text>
<text x="476" y="977">15</text>
<text class="big" x="1505" y="929">48</text>
<text class="big" x="1459" y="975">47</text>
<text class="big" x="1408" y="1001">46</text>
<text class="big" x="1262" y="1065">45</text>
</svg>
</body></html>
